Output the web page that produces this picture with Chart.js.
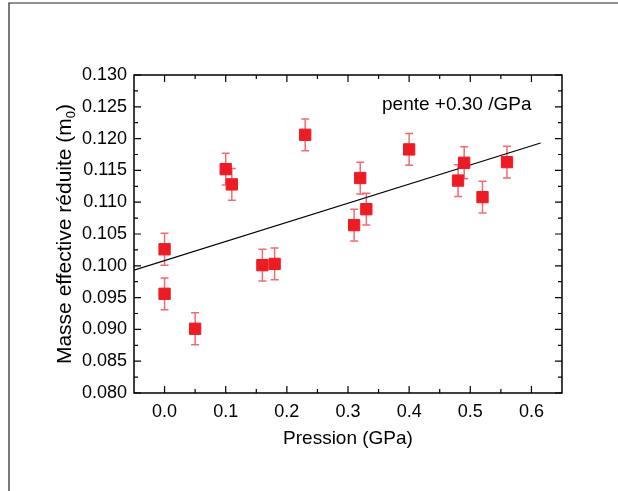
<!DOCTYPE html>
<html>
<head>
<meta charset="utf-8">
<script src="https://cdn.jsdelivr.net/npm/chart.js@4.4.0/dist/chart.umd.min.js"></script>
<style>
body { margin: 0; background: #fff; }
#wrap { width: 618px; height: 491px; }
</style>
</head>
<body>
<div id="wrap"><canvas id="chart" width="618" height="491"></canvas></div>
<script>
// donnees
var pression = [0.00, 0.00, 0.05, 0.10, 0.11, 0.16, 0.18, 0.23, 0.31, 0.32, 0.33, 0.40, 0.48, 0.49, 0.52, 0.56];
var masse = [0.1026, 0.0956, 0.0901, 0.1152, 0.1128, 0.1001, 0.1003, 0.1206, 0.1064, 0.1138, 0.1089, 0.1183, 0.1134, 0.1162, 0.1108, 0.1163];
var erreur = [0.0025, 0.0025, 0.0025, 0.0025, 0.0025, 0.0025, 0.0025, 0.0025, 0.0025, 0.0025, 0.0025, 0.0025, 0.0025, 0.0025, 0.0025, 0.0025];
var fitX = [-0.05, 0.615];
var fitY = [0.0993, 0.1193];
var xTicks = [0.0, 0.1, 0.2, 0.3, 0.4, 0.5, 0.6];
var yTicks = [0.080, 0.085, 0.090, 0.095, 0.100, 0.105, 0.110, 0.115, 0.120, 0.125, 0.130];
var note = 'pente +0.30 /GPa';

var police = '"Liberation Sans", Arial, sans-serif';
var rouge = '#ED1C24';

var points = [];
for (var i = 0; i < pression.length; i++) {
    points.push({x: pression[i], y: masse[i]});
}
var droite = [];
for (var j = 0; j < fitX.length; j++) {
    droite.push({x: fitX[j], y: fitY[j]});
}

function milieux(t) {
    var m = [];
    for (var k = 0; k < t.length - 1; k++) m.push((t[k] + t[k + 1]) / 2);
    return m;
}

var decor = {
    id: 'decor',
    beforeDatasetsDraw: function (chart) {
        var ctx = chart.ctx, xs = chart.scales.x, ys = chart.scales.y;
        ctx.save();
        ctx.strokeStyle = 'rgba(237,28,36,0.65)';
        ctx.lineWidth = 1.5;
        for (var i = 0; i < pression.length; i++) {
            var px = xs.getPixelForValue(pression[i]);
            var top = ys.getPixelForValue(masse[i] + erreur[i]);
            var bas = ys.getPixelForValue(masse[i] - erreur[i]);
            ctx.beginPath();
            ctx.moveTo(px, top); ctx.lineTo(px, bas);
            ctx.moveTo(px - 4, top); ctx.lineTo(px + 4, top);
            ctx.moveTo(px - 4, bas); ctx.lineTo(px + 4, bas);
            ctx.stroke();
        }
        ctx.restore();
    },
    afterDraw: function (chart) {
        var ctx = chart.ctx, a = chart.chartArea, xs = chart.scales.x, ys = chart.scales.y;
        ctx.save();
        // cadre de la page
        ctx.strokeStyle = '#222';
        ctx.lineWidth = 1.2;
        ctx.beginPath();
        ctx.moveTo(9, 491); ctx.lineTo(9, 3); ctx.lineTo(618, 3);
        ctx.stroke();

        // boite des axes
        ctx.strokeStyle = '#000';
        ctx.lineWidth = 1.5;
        ctx.strokeRect(a.left, a.top, a.right - a.left, a.bottom - a.top);

        // graduations vers l'interieur
        ctx.lineWidth = 1.2;
        ctx.beginPath();
        function tx(v, len) {
            var p = xs.getPixelForValue(v);
            ctx.moveTo(p, a.bottom); ctx.lineTo(p, a.bottom - len);
            ctx.moveTo(p, a.top); ctx.lineTo(p, a.top + len);
        }
        function ty(v, len) {
            var p = ys.getPixelForValue(v);
            ctx.moveTo(a.left, p); ctx.lineTo(a.left + len, p);
            ctx.moveTo(a.right, p); ctx.lineTo(a.right - len, p);
        }
        xTicks.forEach(function (v) { tx(v, 7); });
        milieux(xTicks).forEach(function (v) { tx(v, 4); });
        yTicks.forEach(function (v) { ty(v, 7); });
        milieux(yTicks).forEach(function (v) { ty(v, 4); });
        ctx.stroke();

        // titre axe Y avec indice
        ctx.fillStyle = '#000';
        var t1 = 'Masse effective r\u00e9duite (m';
        var t2 = '0';
        var t3 = ')';
        ctx.font = '21px ' + police;
        var w1 = ctx.measureText(t1).width, w3 = ctx.measureText(t3).width;
        ctx.font = '13px ' + police;
        var w2 = ctx.measureText(t2).width;
        var total = w1 + w2 + w3;
        ctx.translate(71, (a.top + a.bottom) / 2);
        ctx.rotate(-Math.PI / 2);
        ctx.textBaseline = 'alphabetic';
        ctx.textAlign = 'left';
        var x0 = -total / 2;
        ctx.font = '21px ' + police;
        ctx.fillText(t1, x0, 0);
        ctx.font = '13px ' + police;
        ctx.fillText(t2, x0 + w1, 4);
        ctx.font = '21px ' + police;
        ctx.fillText(t3, x0 + w1 + w2, 0);
        ctx.restore();

        // annotation
        ctx.save();
        ctx.fillStyle = '#000';
        ctx.font = '19px ' + police;
        ctx.textBaseline = 'alphabetic';
        ctx.fillText(note, 382, 110);
        ctx.restore();
    }
};

var ctx = document.getElementById('chart');
var graphe = new Chart(ctx, {
    type: 'scatter',
    data: {
        datasets: [{
            type: 'line',
            data: droite,
            borderColor: '#000',
            borderWidth: 1.2,
            pointRadius: 0,
            fill: false,
            order: 2
        }, {
            data: points,
            pointStyle: 'rect',
            pointRadius: 8,
            backgroundColor: rouge,
            borderColor: rouge,
            borderWidth: 1,
            order: 1
        }]
    },
    options: {
        responsive: false,
        animation: false,
        layout: {padding: {left: 0, right: 56, top: 75, bottom: 41}},
        plugins: {legend: {display: false}, tooltip: {enabled: false}},
        scales: {
            x: {
                type: 'linear',
                min: -0.05,
                max: 0.65,
                afterBuildTicks: function (s) { s.ticks = xTicks.map(function (v) { return {value: v}; }); },
                afterFit: function (s) { s.height = 57; },
                grid: {display: false, drawTicks: false},
                border: {display: false},
                ticks: {
                    color: '#000',
                    font: {family: police, size: 18},
                    padding: 8,
                    maxRotation: 0,
                    autoSkip: false,
                    callback: function (v) { return v.toFixed(1); }
                },
                title: {
                    display: true,
                    text: 'Pression (GPa)',
                    color: '#000',
                    font: {family: police, size: 19},
                    padding: {top: 10, bottom: 0}
                }
            },
            y: {
                type: 'linear',
                min: 0.08,
                max: 0.13,
                afterBuildTicks: function (s) { s.ticks = yTicks.map(function (v) { return {value: v}; }); },
                afterFit: function (s) { s.width = 134; },
                grid: {display: false, drawTicks: false},
                border: {display: false},
                ticks: {
                    color: '#000',
                    font: {family: police, size: 18},
                    padding: 7,
                    autoSkip: false,
                    callback: function (v) { return v.toFixed(3); }
                }
            }
        }
    },
    plugins: [decor]
});
</script>
</body>
</html>
